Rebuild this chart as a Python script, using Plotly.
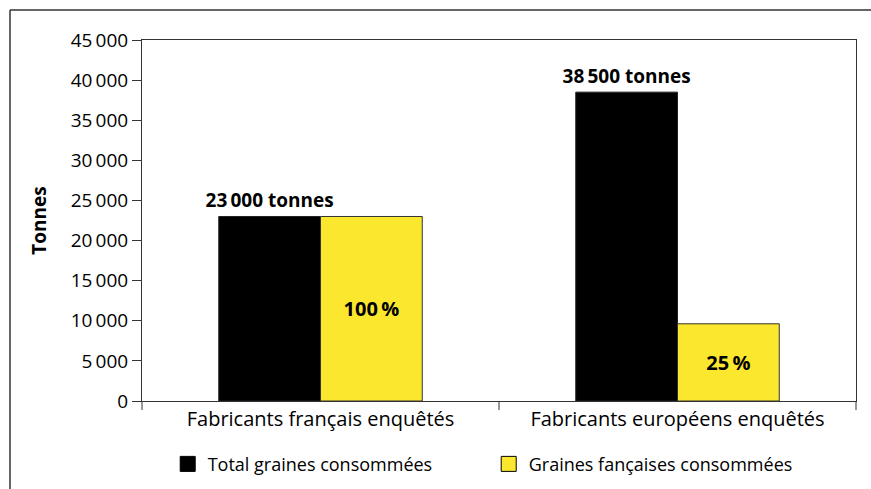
import plotly.graph_objects as go

# Données
categories = ["Fabricants français enquêtés", "Fabricants européens enquêtés"]
total_tonnes = [23000, 38500]
part_francaise_pct = [100, 25]
y_ticks = [0, 5000, 10000, 15000, 20000, 25000, 30000, 35000, 40000, 45000]

series_names = ["Total graines consommées", "Graines fançaises consommées"]
colors = ["#000000", "#FBE82E"]

francaise_tonnes = [t * p / 100 for t, p in zip(total_tonnes, part_francaise_pct)]


def fmt(v):
    return f"{int(v):,}".replace(",", "\u2009")


FONT = "Open Sans"

W, H = 871, 489
L, R, T, B = 142, 15, 40, 88
pw, ph = W - L - R, H - T - B

fig = go.Figure()
fig.add_trace(go.Bar(
    name=series_names[0], x=categories, y=total_tonnes,
    marker=dict(color=colors[0], line=dict(color="#222", width=1)),
    text=[f"<b>{fmt(v)} tonnes</b>" for v in total_tonnes],
    textposition="outside", cliponaxis=False, constraintext="none",
    textfont=dict(family=FONT, size=19, color="black"),
    showlegend=False,
))
fig.add_trace(go.Bar(
    name=series_names[1], x=categories, y=francaise_tonnes,
    marker=dict(color=colors[1], line=dict(color="#333", width=1)),
    text=[f"<b>{p}\u2009%</b>" for p in part_francaise_pct],
    textposition="inside", insidetextanchor="middle", constraintext="none",
    textfont=dict(family=FONT, size=20, color="black"),
    textangle=0,
    showlegend=False,
))

# Entrées de légende (carrés)
for name, col in zip(series_names, colors):
    fig.add_trace(go.Scatter(
        name=name, x=[None], y=[None], mode="markers",
        marker=dict(symbol="square", size=15, color=col,
                    line=dict(color="#000", width=1)),
        showlegend=True,
    ))

fig.update_layout(
    width=W, height=H,
    margin=dict(l=L, r=R, t=T, b=B, autoexpand=False),
    paper_bgcolor="white", plot_bgcolor="white",
    barmode="group", bargap=0.43, bargroupgap=0,
    font=dict(family=FONT, size=19, color="black"),
    uniformtext=dict(mode=False),
    showlegend=True,
    legend=dict(
        orientation="h", x=0.036, y=-0.175, xanchor="left", yanchor="middle",
        entrywidth=276, entrywidthmode="pixels",
        font=dict(family=FONT, size=18), itemsizing="trace",
        traceorder="normal", tracegroupgap=0,
    ),
    xaxis=dict(
        showline=True, linecolor="#333", linewidth=1, mirror=True,
        ticks="", tickfont=dict(family=FONT, size=20),
        fixedrange=True,
    ),
    yaxis=dict(
        range=[0, 45000], tickvals=y_ticks, ticktext=[fmt(v) for v in y_ticks],
        showline=True, linecolor="#333", linewidth=1, mirror=True,
        ticks="outside", ticklen=9, tickcolor="#333",
        showgrid=False, zeroline=False,
        tickfont=dict(family=FONT, size=19),
        title=dict(text="<b>Tonnes</b>", font=dict(family=FONT, size=19), standoff=19),
    ),
)

# Séparateurs de catégories sur l'axe des abscisses
for xp in [0.0, 0.5, 1.0]:
    fig.add_shape(type="line", xref="paper", yref="paper",
                  x0=xp, x1=xp, y0=0, y1=-9 / ph,
                  line=dict(color="#333", width=1))

# Cadre extérieur (bords gauche et haut)
bx = (10 - L) / pw
by = (H - B - 10) / ph
fig.add_shape(type="line", xref="paper", yref="paper",
              x0=bx, x1=bx, y0=by, y1=-(B + 10) / ph,
              line=dict(color="#333", width=1.5))
fig.add_shape(type="line", xref="paper", yref="paper",
              x0=bx, x1=(W - L + 10) / pw, y0=by, y1=by,
              line=dict(color="#333", width=1.5))

fig.write_html("out.html")
